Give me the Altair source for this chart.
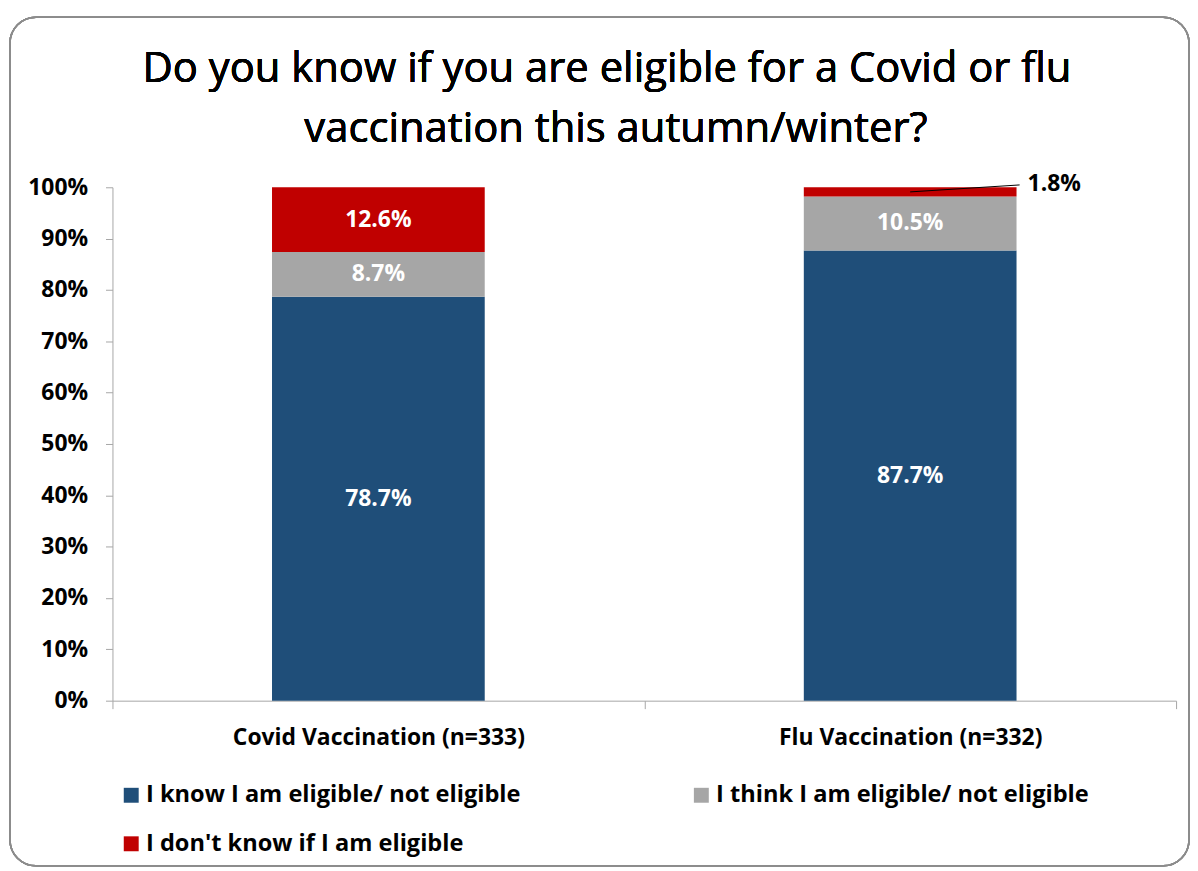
import altair as alt
import pandas as pd

title_lines = ["Do you know if you are eligible for a Covid or flu", "vaccination this autumn/winter?"]
categories = ["Covid Vaccination (n=333)", "Flu Vaccination (n=332)"]
responses = [
    "I know I am eligible/ not eligible",
    "I think I am eligible/ not eligible",
    "I don't know if I am eligible",
]
covid_values = [78.7, 8.7, 12.6]
flu_values = [87.7, 10.5, 1.8]
colors = ["#1F4E79", "#A6A6A6", "#C00000"]
y_ticks = [0, 10, 20, 30, 40, 50, 60, 70, 80, 90, 100]

rows = []
for cat, vals in zip(categories, [covid_values, flu_values]):
    for i, (resp, v) in enumerate(zip(responses, vals)):
        rows.append({"cat": cat, "resp": resp, "value": v, "ord": i})
df = pd.DataFrame(rows)

FONT = "Open Sans"

base = alt.Chart(df).transform_stack(
    stack="value", groupby=["cat"], as_=["y0", "y1"], sort=[alt.SortField("ord")]
).transform_calculate(
    mid="(datum.y0 + datum.y1) / 2",
    label="format(datum.value, '.1f') + '%'",
)

xenc = alt.X(
    "cat:N",
    sort=categories,
    title=None,
    scale=alt.Scale(paddingInner=0, paddingOuter=0),
    axis=alt.Axis(
        labelAngle=0, tickBand="extent", domainColor="#A6A6A6", tickColor="#A6A6A6",
        tickSize=8, labelPadding=18, labelFont=FONT, labelFontSize=23,
        labelFontWeight="bold", labelColor="black", labelLimit=500,
    ),
)

bars = base.mark_bar(width=alt.RelativeBandSize(0.4)).encode(
    x=xenc,
    y=alt.Y(
        "y0:Q",
        title=None,
        scale=alt.Scale(domain=[0, 100], nice=False),
        axis=alt.Axis(
            values=y_ticks, labelExpr="datum.value + '%'", grid=False,
            domainColor="#A6A6A6", tickColor="#A6A6A6", tickSize=7, labelPadding=18,
            labelFont=FONT, labelFontSize=23, labelFontWeight="bold", labelColor="black",
        ),
    ),
    y2="y1:Q",
    color=alt.Color(
        "resp:N",
        sort=responses,
        scale=alt.Scale(domain=responses, range=colors),
        legend=alt.Legend(
            title=None, orient="none", legendX=7, legendY=599, columns=2,
            direction="horizontal", columnPadding=170, rowPadding=24,
            symbolType="square", symbolSize=225, symbolStrokeWidth=0,
            labelFont=FONT, labelFontSize=23.7, labelFontWeight="bold",
            labelColor="black", labelOffset=3, labelLimit=600,
        ),
    ),
)

inside = base.transform_filter("datum.value >= 5").mark_text(
    color="white", font=FONT, fontSize=23, fontWeight="bold"
).encode(x=alt.X("cat:N", sort=categories), y="mid:Q", text="label:N")

small = base.transform_filter("datum.value < 5")

small_text = small.mark_text(
    color="black", font=FONT, fontSize=23, fontWeight="bold", align="left", dx=118, dy=-3
).encode(x=alt.X("cat:N", sort=categories), y="y1:Q", text="label:N")

leader = small.mark_rule(color="black", strokeWidth=1, x2Offset=110, y2Offset=-7).encode(
    x=alt.X("cat:N", sort=categories), x2="cat:N", y="mid:Q", y2="mid:Q"
)

border = alt.Chart(df).mark_rect(
    fill=None, stroke="#8C8C8C", strokeWidth=1.5, cornerRadius=26
).encode(
    x=alt.value(-103), x2=alt.value(1082), y=alt.value(-171), y2=alt.value(682)
)

title1 = alt.Chart(df).mark_text(
    text=title_lines[0], font=FONT, fontSize=42, color="black", align="center",
    baseline="alphabetic",
).encode(x=alt.value(497), y=alt.value(-106))

title2 = alt.Chart(df).mark_text(
    text=title_lines[1], font=FONT, fontSize=42, color="black", align="center",
    baseline="alphabetic",
).encode(x=alt.value(506), y=alt.value(-46))

chart = alt.layer(border, title1, title2, bars, inside, leader, small_text).properties(
    width=1069,
    height=516,
    autosize=alt.AutoSizeParams(type="none"),
    padding={"left": 105, "top": 178, "right": 14, "bottom": 168},
).configure_view(stroke=None)

chart.save("out.html", embed_options={"renderer": "svg", "actions": False})
